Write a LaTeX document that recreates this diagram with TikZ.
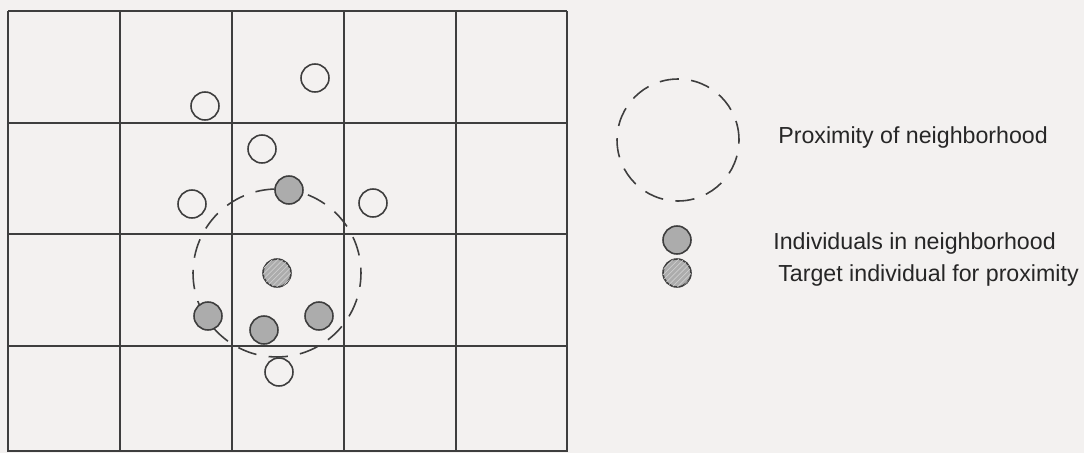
\documentclass[tikz,border=0pt]{standalone}
\usepackage{fontspec}
\setmainfont{Liberation Sans}
\usetikzlibrary{patterns}
\definecolor{paper}{RGB}{243,241,240}
\definecolor{inkline}{RGB}{62,62,62}
\definecolor{nbrfill}{RGB}{172,172,172}
\definecolor{stripe}{RGB}{205,205,205}
\begin{document}
\begin{tikzpicture}[
	x=0.02cm, y=-0.02cm,
	grid line/.style={draw=inkline, line width=1.1pt},
	ind node/.style={circle, draw=inkline, line width=0.9pt, minimum size=0.56cm, inner sep=0pt},
	free ind/.style={ind node, fill=paper},
	nbr ind/.style={ind node, fill=nbrfill},
	target ind/.style={ind node, fill=nbrfill, postaction={pattern=north east lines, pattern color=stripe}},
	reach line/.style={draw=inkline, line width=0.9pt, dash pattern=on 11pt off 7pt},
	legend text/.style={font=\fontsize{13.2}{16}\selectfont, text=black!85, anchor=base west, inner sep=0pt}
	]
	% page
	\fill[paper] (0,0) rectangle (1084,453);
	\useasboundingbox (0,0) rectangle (1084,453);
	% grid of cells
	\foreach \gx in {8,120,232,344,456,567}
		\draw[grid line] (\gx,11) -- (\gx,452);
	\foreach \gy in {11,123,234,346,451}
		\draw[grid line] (8,\gy) -- (567,\gy);
	% proximity of target, drawn under the individuals
	\coordinate (tgtpos) at (277,273);
	\draw[reach line] (tgtpos) ++(0,-84) arc[start angle=90, end angle=-270, radius=1.68cm];
	% individuals
	\node[free ind] (f1) at (315,78) {};
	\node[free ind] (f2) at (205,106) {};
	\node[free ind] (f3) at (262,149) {};
	\node[free ind] (f4) at (192,204) {};
	\node[free ind] (f5) at (373,203) {};
	\node[free ind] (f6) at (279,372) {};
	\node[nbr ind] (n1) at (289,190) {};
	\node[nbr ind] (n2) at (208,316) {};
	\node[nbr ind] (n3) at (264,330) {};
	\node[nbr ind] (n4) at (319,316) {};
	\node[target ind] (tgt) at (tgtpos) {};
	% legend
	\coordinate (keyring) at (678,140);
	\draw[reach line] (keyring) circle[radius=1.22cm];
	\node[legend text] (keyringtxt) at (778,143) {Proximity of neighborhood};
	\node[nbr ind] (keynbr) at (677,240) {};
	\node[legend text] (keynbrtxt) at (773,249) {Individuals in neighborhood};
	\node[target ind] (keytgt) at (677,273) {};
	\node[legend text] (keytgttxt) at (778,281) {Target individual for proximity};
\end{tikzpicture}
\end{document}
